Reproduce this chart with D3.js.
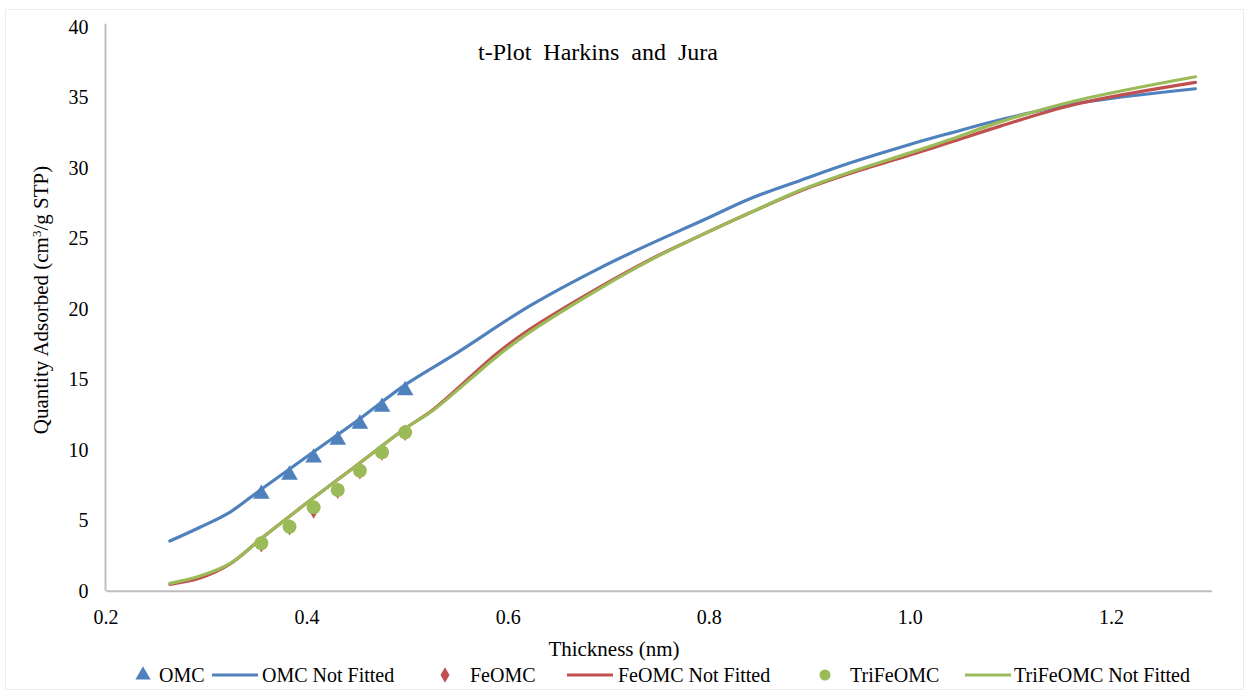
<!DOCTYPE html>
<html>
<head>
<meta charset="utf-8">
<script src="https://cdn.jsdelivr.net/npm/d3@7"></script>
<style>
  html, body { margin: 0; padding: 0; background: #fff; }
  svg { display: block; }
  svg text { font-family: "Liberation Serif", "Times New Roman", Times, serif; fill: #000; }
</style>
</head>
<body>
<svg id="chart" width="1250" height="696"></svg>
<script>
// Thickness values (nm) of the fitted isotherm points
const pointThickness = [0.355, 0.383, 0.407, 0.431, 0.453, 0.475, 0.498];
const omcPoints      = [6.93, 8.28, 9.50, 10.76, 11.90, 13.10, 14.28];
const feomcPoints    = [3.30, 4.50, 5.70, 7.10, 8.48, 9.80, 11.20];
const trifeomcPoints = [3.36, 4.54, 5.91, 7.14, 8.51, 9.82, 11.23];

// Full (not fitted) curves
const omcCurveT = [0.264, 0.294, 0.324, 0.355, 0.407, 0.453, 0.498, 0.548, 0.622, 0.692, 0.742, 0.792, 0.841, 0.891, 0.941, 1.000, 1.040, 1.090, 1.165, 1.284];
const omcCurveY = [3.52, 4.50, 5.58, 7.20, 9.85, 12.20, 14.60, 16.80, 20.20, 22.90, 24.60, 26.20, 27.80, 29.10, 30.35, 31.65, 32.45, 33.40, 34.55, 35.60];

const feCurveT = [0.264, 0.294, 0.324, 0.355, 0.404, 0.450, 0.498, 0.526, 0.589, 0.619, 0.692, 0.742, 0.792, 0.841, 0.891, 0.941, 1.000, 1.040, 1.090, 1.165, 1.284];
const feCurveY = [0.45, 0.90, 1.90, 3.70, 6.43, 8.90, 11.50, 12.85, 16.80, 18.40, 21.55, 23.50, 25.20, 26.80, 28.35, 29.60, 30.90, 31.80, 32.95, 34.50, 36.05];

const triCurveT = [0.264, 0.294, 0.324, 0.355, 0.404, 0.450, 0.498, 0.526, 0.589, 0.619, 0.692, 0.742, 0.792, 0.841, 0.891, 0.941, 1.000, 1.040, 1.090, 1.165, 1.284];
const triCurveY = [0.52, 1.04, 1.94, 3.70, 6.43, 8.90, 11.50, 12.80, 16.60, 18.20, 21.45, 23.45, 25.20, 26.80, 28.40, 29.70, 31.05, 32.00, 33.25, 34.75, 36.45];

const xTicks = [0.2, 0.4, 0.6, 0.8, 1.0, 1.2];
const yTicks = [0, 5, 10, 15, 20, 25, 30, 35, 40];

const legendLabels = ["OMC", "OMC Not Fitted", "FeOMC", "FeOMC Not Fitted", "TriFeOMC", "TriFeOMC Not Fitted"];

const BLUE = "#4F81BD", RED = "#C0504D", GREEN = "#9BBB59";
const SERIF = "Liberation Serif, Times New Roman, Times, serif";

const svg = d3.select("#chart");

// outer chart border
svg.append("rect").attr("x", 5.5).attr("y", 9.5).attr("width", 1238).attr("height", 680)
  .attr("fill", "none").attr("stroke", "#ececec");

const x = d3.scaleLinear().domain([0.2, 1.3]).range([105.5, 1211.5]);
const y = d3.scaleLinear().domain([0, 40]).range([590.7, 26.7]);

// axes
const xAxis = svg.append("g").attr("transform", `translate(0,${y(0)})`)
  .call(d3.axisBottom(x).tickValues(xTicks).tickFormat(d3.format(".1f")).tickSize(0).tickPadding(19));
const yAxis = svg.append("g").attr("transform", `translate(${x(0.2)},0)`)
  .call(d3.axisLeft(y).tickValues(yTicks).tickFormat(d3.format("d")).tickSize(0).tickPadding(17));
[xAxis, yAxis].forEach(g => {
  g.attr("font-family", SERIF);
  g.select(".domain").attr("stroke", "#BFBFBF").attr("stroke-width", 2);
  g.selectAll("text").attr("font-family", SERIF).attr("font-size", 20).attr("fill", "#000");
});
yAxis.select(".domain").attr("d", `M0,${y(40) - 3}V${y(0)}`);

// titles
svg.append("text").attr("x", 598).attr("y", 60).attr("text-anchor", "middle")
  .attr("font-family", SERIF).attr("font-size", 24).attr("word-spacing", 6)
  .text("t-Plot Harkins and Jura");
svg.append("text").attr("x", 614).attr("y", 656).attr("text-anchor", "middle")
  .attr("font-family", SERIF).attr("font-size", 21).text("Thickness (nm)");
const yt = svg.append("text").attr("transform", "translate(48,300) rotate(-90)")
  .attr("text-anchor", "middle").attr("font-family", SERIF).attr("font-size", 21);
yt.append("tspan").text("Quantity Adsorbed (cm");
yt.append("tspan").attr("font-size", 13).attr("dy", -7).text("3");
yt.append("tspan").attr("dy", 7).text("/g STP)");

const line = d3.line().x(d => x(d[0])).y(d => y(d[1])).curve(d3.curveCatmullRom.alpha(0.5));
const zip = (a, b) => a.map((v, i) => [v, b[i]]);

const tri = d3.symbol().type(d3.symbolTriangle).size(120);
const dia = d3.symbol().type(d3.symbolDiamond).size(80);

// each series: its markers first, then its curve
svg.append("g").selectAll("path").data(zip(pointThickness, omcPoints)).join("path")
  .attr("d", tri).attr("fill", BLUE)
  .attr("transform", d => `translate(${x(d[0])},${y(d[1]) + 1})`);
svg.append("path").datum(zip(omcCurveT, omcCurveY)).attr("d", line)
  .attr("fill", "none").attr("stroke", BLUE).attr("stroke-width", 3.2).attr("stroke-linecap", "round");

svg.append("g").selectAll("path").data(zip(pointThickness, feomcPoints)).join("path")
  .attr("d", dia).attr("fill", RED)
  .attr("transform", d => `translate(${x(d[0])},${y(d[1])})`);
svg.append("path").datum(zip(feCurveT, feCurveY)).attr("d", line)
  .attr("fill", "none").attr("stroke", RED).attr("stroke-width", 3.2).attr("stroke-linecap", "round");

svg.append("g").selectAll("circle").data(zip(pointThickness, trifeomcPoints)).join("circle")
  .attr("cx", d => x(d[0])).attr("cy", d => y(d[1])).attr("r", 7).attr("fill", GREEN);
svg.append("path").datum(zip(triCurveT, triCurveY)).attr("d", line)
  .attr("fill", "none").attr("stroke", GREEN).attr("stroke-width", 3.2).attr("stroke-linecap", "round");

// legend
const legY = 675;
const legendItems = [
  { kind: "tri", color: BLUE, mx: 143, tx: 159 },
  { kind: "line", color: BLUE, mx: 212, tx: 262 },
  { kind: "dia", color: RED, mx: 445, tx: 470 },
  { kind: "line", color: RED, mx: 567, tx: 618 },
  { kind: "circle", color: GREEN, mx: 825, tx: 850 },
  { kind: "line", color: GREEN, mx: 965, tx: 1014 }
];
const leg = svg.append("g");
legendItems.forEach((it, i) => {
  if (it.kind === "tri") {
    leg.append("path").attr("d", d3.symbol().type(d3.symbolTriangle).size(100))
      .attr("fill", it.color).attr("transform", `translate(${it.mx},${legY})`);
  } else if (it.kind === "dia") {
    leg.append("path").attr("d", d3.symbol().type(d3.symbolDiamond).size(70))
      .attr("fill", it.color).attr("transform", `translate(${it.mx},${legY})`);
  } else if (it.kind === "circle") {
    leg.append("circle").attr("cx", it.mx).attr("cy", legY).attr("r", 5.5).attr("fill", it.color);
  } else {
    leg.append("line").attr("x1", it.mx).attr("x2", it.mx + 46).attr("y1", legY).attr("y2", legY)
      .attr("stroke", it.color).attr("stroke-width", 3.2);
  }
  leg.append("text").attr("x", it.tx).attr("y", legY + 7)
    .attr("font-family", SERIF).attr("font-size", 20).text(legendLabels[i]);
});
</script>
</body>
</html>
